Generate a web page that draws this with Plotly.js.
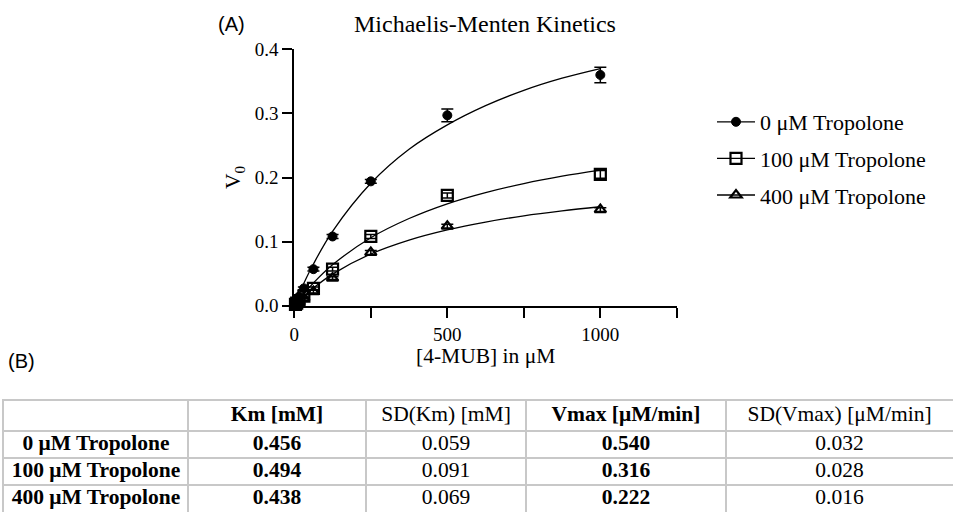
<!DOCTYPE html>
<html>
<head>
<meta charset="utf-8">
<script src="https://cdn.plot.ly/plotly-3.0.1.min.js"></script>
<style>html,body{margin:0;padding:0;background:#fff;}#chart{width:953px;height:512px;}</style>
</head>
<body>
<div id="chart"></div>
<script>
// Measured substrate concentrations (µM)
const substrate = [3.9, 7.8, 15.6, 31.25, 62.5, 125, 250, 500, 1000];
// Measured initial velocities V0
const v0_0uM   = [0.004, 0.008, 0.014, 0.027, 0.057, 0.108, 0.194, 0.297, 0.360];
const sd_0uM   = [0.001, 0.001, 0.002, 0.002, 0.003, 0.003, 0.003, 0.010, 0.012];
const v0_100uM = [0.002, 0.004, 0.008, 0.015, 0.027, 0.057, 0.108, 0.172, 0.205];
const sd_100uM = [0.001, 0.001, 0.001, 0.002, 0.002, 0.003, 0.003, 0.004, 0.006];
const v0_400uM = [0.0015, 0.003, 0.006, 0.012, 0.022, 0.043, 0.083, 0.124, 0.150];
const sd_400uM = [0.001, 0.001, 0.001, 0.001, 0.002, 0.002, 0.003, 0.003, 0.003];

// Fitted curves
const curveX      = [0, 15.6, 31.25, 62.5, 125, 250, 375, 500, 625, 750, 875, 1000];
const curve_0uM   = [0, 0.018, 0.035, 0.065, 0.116, 0.191, 0.244, 0.282, 0.312, 0.336, 0.355, 0.370];
const curve_100uM = [0, 0.0097, 0.0188, 0.0355, 0.0638, 0.106, 0.136, 0.159, 0.1765, 0.1905, 0.202, 0.2115];
const curve_400uM = [0, 0.0076, 0.0148, 0.0277, 0.0493, 0.0807, 0.1024, 0.1183, 0.1305, 0.1402, 0.1479, 0.1544];

const seriesNames = ['0 μM Tropolone', '100 μM Tropolone', '400 μM Tropolone'];

// Table (B)
const tableHeaders = ['', 'Km [mM]', 'SD(Km) [mM]', 'Vmax [μM/min]', 'SD(Vmax) [μM/min]'];
const rowLabels = ['0 μM Tropolone', '100 μM Tropolone', '400 μM Tropolone'];
const kmValues = ['0.456', '0.494', '0.438'];
const sdKmValues = ['0.059', '0.091', '0.069'];
const vmaxValues = ['0.540', '0.316', '0.222'];
const sdVmaxValues = ['0.032', '0.028', '0.016'];

// table geometry (layout only)
const colWidths = [184, 178, 160, 200, 227];
const headerHeight = 30, rowHeight = 27;

const serif = 'Liberation Serif, Times New Roman, serif';
const sans = 'Liberation Sans, Arial, sans-serif';
const bold = s => '<b>' + s + '</b>';

const markerStyles = [
  {symbol: 'circle', size: 9, color: '#000', line: {color: '#000', width: 1}},
  {symbol: 'square-open', size: 11, color: '#000', line: {color: '#000', width: 2.2}},
  {symbol: 'triangle-up-open', size: 10, color: '#000', line: {color: '#000', width: 2.2}}
];
const vals = [v0_0uM, v0_100uM, v0_400uM];
const sds = [sd_0uM, sd_100uM, sd_400uM];
const curves = [curve_0uM, curve_100uM, curve_400uM];

const traces = [];
for (let i = 0; i < 3; i++) {
  traces.push({
    type: 'scatter', mode: 'lines', x: curveX, y: curves[i],
    line: {color: '#000', width: 1.3, shape: 'spline'},
    showlegend: false, hoverinfo: 'skip', cliponaxis: false
  });
}
for (let i = 0; i < 3; i++) {
  traces.push({
    type: 'scatter', mode: 'markers', x: substrate, y: vals[i],
    marker: markerStyles[i],
    error_y: {type: 'data', array: sds[i], visible: true, color: '#000', thickness: 1.5, width: 6},
    showlegend: false, cliponaxis: false
  });
}
for (let i = 0; i < 3; i++) {
  traces.push({
    type: 'scatter', mode: 'lines+markers', x: [null], y: [null],
    name: seriesNames[i],
    marker: markerStyles[i],
    line: {color: '#000', width: 1.3},
    showlegend: true, legendgroup: 'g' + i
  });
}

// Table drawn on its own pair of axes: borders are the axes' grid lines
const colEdges = [0];
colWidths.forEach(w => colEdges.push(colEdges[colEdges.length - 1] + w));
const rowEdges = [0, headerHeight];
for (let r = 0; r < rowLabels.length; r++) rowEdges.push(rowEdges[rowEdges.length - 1] + rowHeight);
const colCenters = colWidths.map((w, j) => colEdges[j] + w / 2);
const rowCenters = rowEdges.slice(0, -1).map((e, r) => (e + rowEdges[r + 1]) / 2);

const columns = [rowLabels.map(bold), kmValues.map(bold), sdKmValues, vmaxValues.map(bold), sdVmaxValues];
const tx = [], ty = [], tt = [];
tableHeaders.forEach((h, j) => {
  if (h) { tx.push(colCenters[j]); ty.push(rowCenters[0]); tt.push((j === 1 || j === 3) ? bold(h) : h); }
});
columns.forEach((col, j) => col.forEach((v, r) => {
  tx.push(colCenters[j]); ty.push(rowCenters[r + 1]); tt.push(v);
}));
traces.push({
  type: 'scatter', mode: 'text', x: tx, y: ty, text: tt, xaxis: 'x2', yaxis: 'y2',
  textposition: 'middle center', textfont: {family: serif, size: 21.5, color: '#000'},
  showlegend: false, hoverinfo: 'skip', cliponaxis: false
});

const tableTop = 401;
const totalW = colEdges[colEdges.length - 1];
const totalH = rowEdges[rowEdges.length - 1];

const layout = {
  width: 953, height: 512,
  margin: {l: 0, r: 0, t: 0, b: 0},
  paper_bgcolor: '#fff', plot_bgcolor: '#fff',
  showlegend: true,
  title: {text: 'Michaelis-Menten Kinetics', x: 485/953, xanchor: 'center', y: 1 - 24/512, yanchor: 'middle',
          font: {family: serif, size: 24, color: '#000'}},
  xaxis: {
    domain: [294.3/953, 677/953], range: [0, 1250.5],
    tickvals: [0, 500, 1000],
    minor: {dtick: 250, tick0: 0, ticks: 'outside', ticklen: 10, tickwidth: 2, tickcolor: '#000', showgrid: false},
    showline: true, linecolor: '#000', linewidth: 2,
    ticks: 'outside', ticklen: 10, tickwidth: 2, tickcolor: '#000',
    showgrid: false, zeroline: false,
    tickfont: {family: serif, size: 19, color: '#000'},
    title: {text: '[4-MUB] in μM', font: {family: serif, size: 21.5, color: '#000'}, standoff: 4}
  },
  yaxis: {
    domain: [206.3/512, 462.7/512], range: [0, 0.4],
    dtick: 0.1, tickformat: '.1f',
    showline: true, linecolor: '#000', linewidth: 2,
    ticks: 'outside', ticklen: 10, tickwidth: 2, tickcolor: '#000',
    showgrid: false, zeroline: false,
    tickfont: {family: serif, size: 19, color: '#000'},
    title: {text: 'V<sub>0</sub>', font: {family: serif, size: 21.5, color: '#000'}, standoff: 8}
  },
  xaxis2: {
    domain: [4/953, Math.min(1, (4 + totalW)/953)], range: [0, totalW], anchor: 'y2',
    tickvals: colEdges.slice(1, -1), showticklabels: false, ticks: '',
    showgrid: true, gridcolor: '#c8c8c8', gridwidth: 2, zeroline: false,
    showline: true, mirror: true, linecolor: '#c8c8c8', linewidth: 2, fixedrange: true
  },
  yaxis2: {
    domain: [Math.max(0, (512 - tableTop - totalH)/512), (512 - tableTop)/512], range: [totalH, 0], anchor: 'x2',
    tickvals: rowEdges.slice(1, -1), showticklabels: false, ticks: '',
    showgrid: true, gridcolor: '#c8c8c8', gridwidth: 2, zeroline: false,
    showline: true, mirror: true, linecolor: '#c8c8c8', linewidth: 2, fixedrange: true
  },
  legend: {
    x: 712/953, xanchor: 'left', y: 1 - 101/512, yanchor: 'top',
    font: {family: serif, size: 22, color: '#000'},
    tracegroupgap: 5, bgcolor: 'rgba(0,0,0,0)', itemwidth: 38
  },
  annotations: [
    {text: '(A)', xref: 'paper', yref: 'paper', x: 231/953, y: 1 - 24/512, xanchor: 'center', yanchor: 'middle',
     showarrow: false, font: {family: sans, size: 20, color: '#000'}},
    {text: '(B)', xref: 'paper', yref: 'paper', x: 21/953, y: 1 - 361/512, xanchor: 'center', yanchor: 'middle',
     showarrow: false, font: {family: sans, size: 20, color: '#000'}}
  ]
};

Plotly.newPlot('chart', traces, layout, {displayModeBar: false, staticPlot: true});
</script>
</body>
</html>
